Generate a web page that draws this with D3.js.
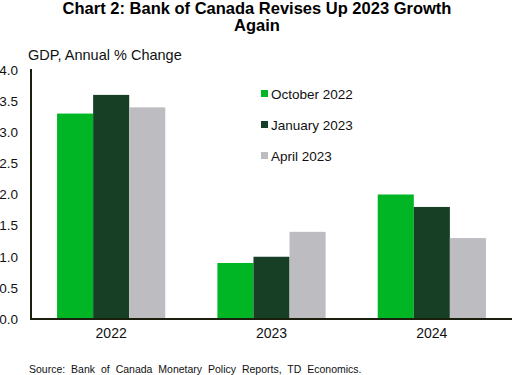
<!DOCTYPE html>
<html><head><meta charset="utf-8">
<script src="https://cdn.jsdelivr.net/npm/d3@7"></script>
<style>body{margin:0;background:#fff;}svg{display:block;font-family:"Liberation Sans",Arial,sans-serif;}</style>
</head><body>
<script>
const categories = ["2022","2023","2024"];
const seriesNames = ["October 2022","January 2023","April 2023"];
const october2022 = [3.3, 0.9, 2.0];
const january2023 = [3.6, 1.0, 1.8];
const april2023 = [3.4, 1.4, 1.3];
const yTicks = [0,0.5,1.0,1.5,2.0,2.5,3.0,3.5,4.0];
const colors = ["#00b624","#173f25","#bdbdc1"];
const series = [october2022, january2023, april2023];

(function(){
const W=513,H=375;
const svg=d3.select("body").append("svg").attr("width",W).attr("height",H);
const pl=31,pr=512,pt=70,pb=319;
const x=d3.scaleBand().domain(categories).range([pl,pr]).paddingInner(0.325).paddingOuter(0.1625);
const x1=d3.scaleBand().domain(seriesNames).range([0,x.bandwidth()]);
const y=d3.scaleLinear().domain([0,4]).range([pb,pt]);

svg.append("text").attr("x",257).attr("y",14).attr("text-anchor","middle").attr("font-weight","bold").attr("font-size",16.5).text("Chart 2: Bank of Canada Revises Up 2023 Growth");
svg.append("text").attr("x",257).attr("y",31).attr("text-anchor","middle").attr("font-weight","bold").attr("font-size",16.5).text("Again");
svg.append("text").attr("x",28).attr("y",60).attr("font-size",14.5).attr("fill","#111").text("GDP, Annual % Change");

categories.forEach((c,i)=>{
  series.forEach((s,j)=>{
    svg.append("rect").attr("x",x(c)+x1(seriesNames[j])).attr("y",y(s[i])).attr("width",x1.bandwidth()).attr("height",y(0)-y(s[i])).attr("fill",colors[j]);
  });
});

const ya=svg.append("g").attr("transform",`translate(${pl},0)`).call(d3.axisLeft(y).tickValues(yTicks).tickFormat(d3.format(".1f")).tickSize(0).tickPadding(13));
ya.select(".domain").remove();
ya.selectAll("text").attr("font-size",13.5).attr("fill","#111").attr("font-family","Liberation Sans, Arial, sans-serif");
const xa=svg.append("g").attr("transform",`translate(0,${pb})`).call(d3.axisBottom(x).tickSize(0).tickPadding(9));
xa.select(".domain").remove();
xa.selectAll("text").attr("font-size",14).attr("fill","#111").attr("font-family","Liberation Sans, Arial, sans-serif");

svg.append("line").attr("x1",pl).attr("x2",pl).attr("y1",pt-1).attr("y2",pb+1).attr("stroke","#1a1f0e").attr("stroke-width",2);
svg.append("line").attr("x1",pl-1).attr("x2",pr).attr("y1",pb).attr("y2",pb).attr("stroke","#1a1f0e").attr("stroke-width",2);

const ly=[94,125,156];
seriesNames.forEach((n,j)=>{
  svg.append("rect").attr("x",261).attr("y",ly[j]-4).attr("width",7).attr("height",7).attr("fill",colors[j]);
  svg.append("text").attr("x",271).attr("y",ly[j]+5).attr("font-size",13.5).attr("fill","#111").text(n);
});

svg.append("text").attr("x",29).attr("y",373).attr("font-size",10.5).attr("word-spacing",3).attr("fill","#111").text("Source: Bank of Canada Monetary Policy Reports, TD Economics.");
})();
</script>
</body></html>
